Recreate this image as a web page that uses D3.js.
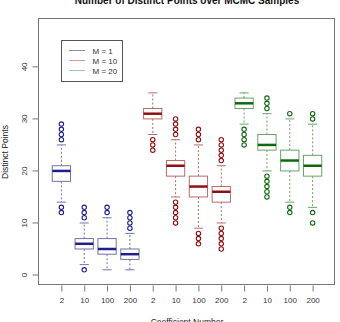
<!DOCTYPE html>
<html>
<head>
<meta charset="utf-8">
<script src="https://cdn.jsdelivr.net/npm/d3@7"></script>
<style>
body { margin: 0; background: #fff; }
svg { display: block; font-family: "Liberation Sans", Arial, sans-serif; }
</style>
</head>
<body>
<div id="grafica"></div>
<script>
// datos
var coeficientes = ["2", "10", "100", "200", "2", "10", "100", "200", "2", "10", "100", "200"];
var grupo = [0, 0, 0, 0, 1, 1, 1, 1, 2, 2, 2, 2];
var leyenda = ["M = 1", "M = 10", "M = 20"];
var q1 =      [18, 5, 4, 3, 30, 19, 15, 14, 32, 24, 20, 19];
var mediana = [20, 6, 5, 4, 31, 21, 17, 16, 33, 25, 22, 21];
var q3 =      [21, 7, 7, 5, 32, 22, 19, 17, 34, 27, 24, 23];
var bigote_inf = [14, 2, 1, 1, 27, 15, 9, 10, 29, 20, 14, 13];
var bigote_sup = [25, 10, 11, 8, 35, 26, 25, 21, 35, 31, 30, 29];
var atipicos = [
  [12, 13, 26, 27, 28, 29],
  [1, 11, 12, 13],
  [12, 13],
  [9, 10, 11, 12],
  [24, 25, 26],
  [10, 11, 12, 13, 14, 27, 28, 29, 30],
  [6, 7, 8, 26, 27, 28],
  [5, 6, 7, 8, 9, 22, 23, 24, 25, 26],
  [25, 26, 27, 28],
  [15, 16, 17, 18, 19, 32, 33, 34],
  [12, 13, 31],
  [10, 12, 30, 31]
];
var ticks_y = [0, 10, 20, 30, 40];

var col_borde = ["#7272ad", "#b86a6a", "#6aa26a"];
var col_fuerte = ["#1e1e8c", "#8e1010", "#0f6a0f"];
var col_leyenda = ["#8a8ac0", "#d99a9a", "#9ccc9c"];

function inicializa() {
  var ancho = 340, alto = 322;
  var izq = 39, der = 335, arriba = 19, abajo = 285;

  var svg = d3.select("#grafica").append("svg")
    .attr("width", ancho)
    .attr("height", alto);

  var x = d3.scaleLinear().domain([0.02, 12.98]).range([izq, der]);
  var y = d3.scaleLinear().domain([-1.92, 49.2]).range([abajo, arriba]);
  var paso = x(2) - x(1);
  var caja = paso * 0.8;

  //titulo, cortado arriba igual que en la imagen
  svg.append("text")
    .attr("x", (izq + der) / 2).attr("y", 3.5)
    .attr("text-anchor", "middle")
    .style("font-size", "10px").style("font-weight", "bold")
    .attr("fill", "#111")
    .text("Number of Distinct Points over MCMC Samples");

  //ejes
  var eje_y = d3.axisLeft(y).tickValues(ticks_y).tickSize(6).tickPadding(3);
  var gy = svg.append("g")
    .attr("transform", "translate(" + (izq - 0.5) + ",0)")
    .call(eje_y);
  gy.select(".domain").attr("d", "M0," + y(0) + "V" + y(40)).attr("stroke", "#777");
  gy.selectAll(".tick line").attr("stroke", "#777");
  gy.selectAll(".tick text")
    .attr("x", null).attr("dy", null)
    .attr("transform", function(d) { return "translate(-12," + y(d) + ") rotate(-90)"; })
    .attr("y", 0)
    .style("text-anchor", "middle")
    .style("font-size", "8px")
    .attr("fill", "#333")
    .each(function() { d3.select(this.parentNode).attr("transform", null); });
  gy.selectAll(".tick line").each(function(d) {
    d3.select(this).attr("transform", "translate(0," + y(d) + ")");
  });

  var eje_x = d3.axisBottom(x)
    .tickValues(d3.range(1, 13))
    .tickFormat(function(d) { return coeficientes[d - 1]; })
    .tickSize(6).tickPadding(6);
  var gx = svg.append("g")
    .attr("transform", "translate(0," + (abajo + 0.5) + ")")
    .call(eje_x);
  gx.select(".domain").remove();
  gx.selectAll(".tick line").attr("stroke", "#777");
  gx.selectAll(".tick text").style("font-size", "8px").attr("fill", "#333");

  svg.append("text")
    .attr("x", (izq + der) / 2).attr("y", 324.5)
    .attr("text-anchor", "middle")
    .style("font-size", "8.5px").attr("fill", "#222")
    .text("Coefficient Number");

  svg.append("text")
    .attr("transform", "translate(8," + ((arriba + abajo) / 2) + ") rotate(-90)")
    .attr("text-anchor", "middle")
    .style("font-size", "8.5px").attr("fill", "#222")
    .text("Distinct Points");

  //cajas
  var cajas = svg.selectAll("g.caja")
    .data(d3.range(coeficientes.length))
    .enter().append("g")
    .attr("class", "caja");

  cajas.each(function(i) {
    var g = d3.select(this);
    var cx = x(i + 1);
    var c = grupo[i];
    //bigotes punteados
    g.append("line")
      .attr("x1", cx).attr("x2", cx)
      .attr("y1", y(q3[i])).attr("y2", y(bigote_sup[i]))
      .attr("stroke", col_borde[c]).attr("stroke-dasharray", "2,2");
    g.append("line")
      .attr("x1", cx).attr("x2", cx)
      .attr("y1", y(q1[i])).attr("y2", y(bigote_inf[i]))
      .attr("stroke", col_borde[c]).attr("stroke-dasharray", "2,2");
    [bigote_sup[i], bigote_inf[i]].forEach(function(v) {
      g.append("line")
        .attr("x1", cx - caja / 4).attr("x2", cx + caja / 4)
        .attr("y1", y(v)).attr("y2", y(v))
        .attr("stroke", col_borde[c]);
    });
    g.append("rect")
      .attr("x", cx - caja / 2).attr("width", caja)
      .attr("y", y(q3[i])).attr("height", y(q1[i]) - y(q3[i]))
      .attr("fill", "#fff").attr("stroke", col_borde[c]);
    g.append("line")
      .attr("x1", cx - caja / 2).attr("x2", cx + caja / 2)
      .attr("y1", y(mediana[i])).attr("y2", y(mediana[i]))
      .attr("stroke", col_fuerte[c]).attr("stroke-width", 2.5);
    g.selectAll("circle")
      .data(atipicos[i])
      .enter().append("circle")
      .attr("cx", cx).attr("cy", function(d) { return y(d); })
      .attr("r", 2.2)
      .attr("fill", "none")
      .attr("stroke", col_fuerte[c]).attr("stroke-width", 1.1);
  });

  //marco
  svg.append("rect")
    .attr("x", izq - 0.5).attr("y", arriba - 0.5)
    .attr("width", der - izq).attr("height", abajo - arriba)
    .attr("fill", "none").attr("stroke", "#777");

  //leyenda
  var ley = svg.append("g").attr("transform", "translate(61.5,40.5)");
  ley.append("rect")
    .attr("width", 61).attr("height", 41)
    .attr("fill", "#fff").attr("stroke", "#555");
  leyenda.forEach(function(t, k) {
    ley.append("line")
      .attr("x1", 7.5).attr("x2", 23.5)
      .attr("y1", 10 + k * 10).attr("y2", 10 + k * 10)
      .attr("stroke", col_leyenda[k]);
    ley.append("text")
      .attr("x", 31).attr("y", 13 + k * 10)
      .style("font-size", "8px").attr("fill", "#333")
      .text(t);
  });
}

inicializa();
</script>
</body>
</html>
